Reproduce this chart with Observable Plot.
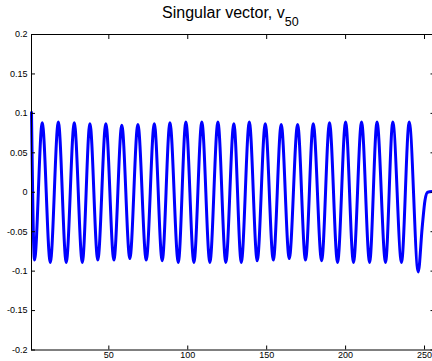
<!DOCTYPE html>
<html>
<head>
<meta charset="utf-8">
<script src="https://cdn.jsdelivr.net/npm/d3@7"></script>
<script src="https://cdn.jsdelivr.net/npm/@observablehq/plot@0.6"></script>
<style>
  html, body { margin: 0; padding: 0; background: #fff; overflow: hidden; }
  #chart svg { display: block; }
</style>
</head>
<body>
<div id="chart"></div>
<script>
// Sample positions (index) of the extremes and end points
const sampleIndex = [1, 2.9, 7.8, 12.9, 18.0, 23.0, 28.1, 33.2, 38.0, 43.0, 48.1, 53.2, 58.2, 63.3, 68.4, 73.7, 78.8, 83.8, 88.7, 94.0, 98.8, 103.9, 108.9, 114.0, 119.1, 124.1, 129.2, 133.9, 139.0, 144.0, 149.1, 154.2, 159.2, 164.3, 169.6, 174.6, 179.5, 184.8, 189.8, 194.9, 200.0, 205.0, 210.1, 215.2, 219.9, 225.3, 229.9, 235.4, 240.3, 246.0, 248.5, 250.3, 252, 256];
const vectorValue = [0.101, -0.086, 0.088, -0.089, 0.089, -0.089, 0.088, -0.089, 0.087, -0.086, 0.087, -0.086, 0.085, -0.084, 0.086, -0.086, 0.087, -0.087, 0.088, -0.089, 0.089, -0.089, 0.089, -0.089, 0.089, -0.089, 0.087, -0.089, 0.089, -0.087, 0.087, -0.086, 0.086, -0.084, 0.086, -0.086, 0.087, -0.087, 0.088, -0.089, 0.089, -0.089, 0.089, -0.089, 0.089, -0.089, 0.089, -0.089, 0.089, -0.101, -0.045, -0.010, 0.000, 0.001];

const xTicks = [50, 100, 150, 200, 250];
const xTickLabels = ["50", "100", "150", "200", "250"];
const yTicks = [-0.2, -0.15, -0.1, -0.05, 0, 0.05, 0.1, 0.15, 0.2];
const yTickLabels = ["-0.2", "-0.15", "-0.1", "-0.05", "0", "0.05", "0.1", "0.15", "0.2"];

const titleMain = "Singular vector, v";
const titleSub = "50";

const data = sampleIndex.map((x, i) => ({x, v: vectorValue[i]}));

const fontFamily = "'Liberation Sans', Arial, Helvetica, sans-serif";

const chart = Plot.plot({
  width: 432,
  height: 361,
  marginLeft: 31,
  marginRight: -1.5,
  marginTop: 34,
  marginBottom: 11.5,
  style: {fontFamily, fontSize: "9px", background: "#fff", color: "#000"},
  x: {domain: [1, 256]},
  y: {domain: [-0.2, 0.2]},
  marks: [
    Plot.line(data, {x: "x", y: "v", curve: "monotone-x", stroke: "#0000ff", strokeWidth: 3}),
    Plot.frame({stroke: "#000", strokeWidth: 1}),
    Plot.axisY(yTicks, {anchor: "left", label: null, tickSize: -4, tickPadding: 8, tickFormat: d => yTickLabels[yTicks.indexOf(d)], stroke: "#000", fill: "#000"}),
    Plot.axisY(yTicks, {anchor: "right", label: null, tickSize: -4, tickFormat: () => "", stroke: "#000"}),
    Plot.axisX(xTicks, {anchor: "bottom", label: null, tickSize: -4, tickPadding: 6, tickFormat: d => xTickLabels[xTicks.indexOf(d)], stroke: "#000", fill: "#000"}),
    Plot.axisX(xTicks, {anchor: "top", label: null, tickSize: -4, tickFormat: () => "", stroke: "#000"})
  ]
});

document.getElementById("chart").appendChild(chart);

// Title with subscript, as real SVG text
const svg = d3.select(chart.tagName.toLowerCase() === "svg" ? chart : chart.querySelector("svg"));
const t = svg.append("text")
  .attr("x", 162)
  .attr("y", 18)
  .attr("text-anchor", "start")
  .attr("fill", "#000")
  .style("font-family", fontFamily)
  .style("font-size", "16px");
t.append("tspan").text(titleMain);
t.append("tspan").attr("dy", 7.5).style("font-size", "12.5px").text(titleSub);
</script>
</body>
</html>
